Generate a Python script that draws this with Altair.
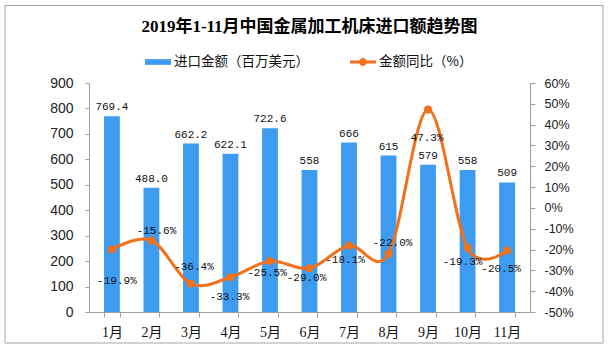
import altair as alt
import pandas as pd

months = ["1月", "2月", "3月", "4月", "5月", "6月", "7月", "8月", "9月", "10月", "11月"]
import_values = [769.4, 488.0, 662.2, 622.1, 722.6, 558, 666, 615, 579, 558, 509]
import_labels = ["769.4", "488.0", "662.2", "622.1", "722.6", "558", "666", "615", "579", "558", "509"]
yoy_values = [-19.9, -15.6, -36.4, -33.3, -25.5, -29.0, -18.1, -22.0, 47.3, -19.3, -20.5]
yoy_labels = ["-19.9%", "-15.6%", "-36.4%", "-33.3%", "-25.5%", "-29.0%", "-18.1%", "-22.0%", "47.3%", "-19.3%", "-20.5%"]

# pixel nudges for the YoY labels (label placement only)
yoy_label_dx = [5, 5, 3, -1, -3, -3, -4, 4, -1, -5, -6]
yoy_label_dy = [32, -9, -17, 20, 12, 10, 14, -11, 29, 14, 18]

BLUE = "#3d9cf0"
ORANGE = "#f2711c"
AXIS_GRAY = "#a0a0a0"
S1 = "进口金额（百万美元）"
S2 = "金额同比（%）"

df = pd.DataFrame({
    "month": months,
    "imports": import_values,
    "imp_label": import_labels,
    "yoy": yoy_values,
    "yoy_label": yoy_labels,
    "s1": [S1] * len(months),
    "s2": [S2] * len(months),
})

x_enc = alt.X(
    "month:N", sort=months,
    scale=alt.Scale(paddingInner=0.6, paddingOuter=0.38),
    axis=alt.Axis(title=None, labelAngle=0, tickBand="extent", domainColor=AXIS_GRAY,
                  tickColor=AXIS_GRAY, tickSize=5, labelPadding=8,
                  labelFont="Liberation Serif, Noto Sans CJK SC", labelFontSize=14,
                  labelColor="#111"),
)

y_left = alt.Y(
    "imports:Q",
    scale=alt.Scale(domain=[0, 900], nice=False),
    axis=alt.Axis(title=None, orient="left", values=list(range(0, 901, 100)),
                  domainColor=AXIS_GRAY, tickColor=AXIS_GRAY, tickSize=4, labelPadding=12,
                  labelFont="Liberation Sans", labelFontSize=14, labelColor="#222", grid=False),
)

y_right = alt.Y(
    "yoy:Q",
    scale=alt.Scale(domain=[-50, 60], nice=False),
    axis=alt.Axis(title=None, orient="right", values=list(range(-50, 61, 10)),
                  labelExpr="datum.value + '%'",
                  domainColor=AXIS_GRAY, tickColor=AXIS_GRAY, tickSize=5, labelPadding=9,
                  labelFont="Liberation Sans", labelFontSize=12.5, labelColor="#222", grid=False),
)

base = alt.Chart(df).encode(x=x_enc)

bars = base.mark_bar().encode(
    y=y_left,
    color=alt.Color("s1:N", scale=alt.Scale(range=[BLUE]),
                    legend=alt.Legend(title=None, orient="none", legendX=56, legendY=-34,
                                      symbolType="M-1,-0.22H1V0.22H-1Z", symbolSize=676,
                                      symbolStrokeWidth=0, labelOffset=3,
                                      labelFont="Noto Sans CJK SC", labelFontSize=13.5,
                                      labelColor="#111")),
)
bar_text = base.mark_text(baseline="bottom", dy=-4, font="Liberation Mono", fontSize=11,
                          color="#111").encode(y=y_left, text="imp_label:N")

line = base.mark_line(interpolate="cardinal", strokeWidth=3).encode(
    y=y_right,
    stroke=alt.Stroke("s2:N", scale=alt.Scale(range=[ORANGE]),
                      legend=alt.Legend(title=None, orient="none", legendX=261, legendY=-34,
                                        symbolType="M-1,-0.11H1V0.11H-1Z M0.3,0 A0.3,0.3 0 1,1 -0.3,0 A0.3,0.3 0 1,1 0.3,0Z",
                                        symbolSize=676, symbolFillColor=ORANGE,
                                        symbolStrokeWidth=0, labelOffset=3,
                                        labelFont="Noto Sans CJK SC", labelFontSize=13.5,
                                        labelColor="#111")),
)
points = base.mark_point(filled=True, size=64, color=ORANGE, opacity=1).encode(y=y_right)

yoy_text_layers = [
    base.transform_filter(alt.datum.month == m).mark_text(
        baseline="middle", font="Liberation Mono", fontSize=11, color="#111", dx=dx, dy=dy
    ).encode(y=y_right, text="yoy_label:N")
    for m, dx, dy in zip(months, yoy_label_dx, yoy_label_dy)
]

frame_data = alt.Data(values=[{}])
border = alt.Chart(frame_data).mark_rect(fillOpacity=0, stroke="#a6a6a6",
                                         strokeWidth=1).encode(
    x=alt.value(-84), x2=alt.value(514), y=alt.value(-77.5), y2=alt.value(260)
)
border_top = alt.Chart(frame_data).mark_rule(stroke="#a6a6a6", strokeWidth=1).encode(
    x=alt.value(-84), x2=alt.value(514), y=alt.value(-77.5)
)

left = alt.layer(bars, bar_text)
right = alt.layer(line, points, *yoy_text_layers)

chart = alt.layer(left, right, border, border_top).resolve_scale(y="independent").properties(
    width=441, height=229,
    autosize=alt.AutoSizeParams(type="none"),
    padding={"left": 89, "top": 83, "right": 79, "bottom": 39},
    title=alt.TitleParams(
        "2019年1-11月中国金属加工机床进口额趋势图",
        font="Liberation Serif, Noto Sans CJK SC", fontSize=17, fontWeight="bold",
        anchor="middle", frame="group", offset=-48, baseline="bottom", color="#000",
    ),
).configure_view(stroke=None).configure_axis(grid=False)

chart.save("out.html", embed_options={"renderer": "svg", "actions": False})
